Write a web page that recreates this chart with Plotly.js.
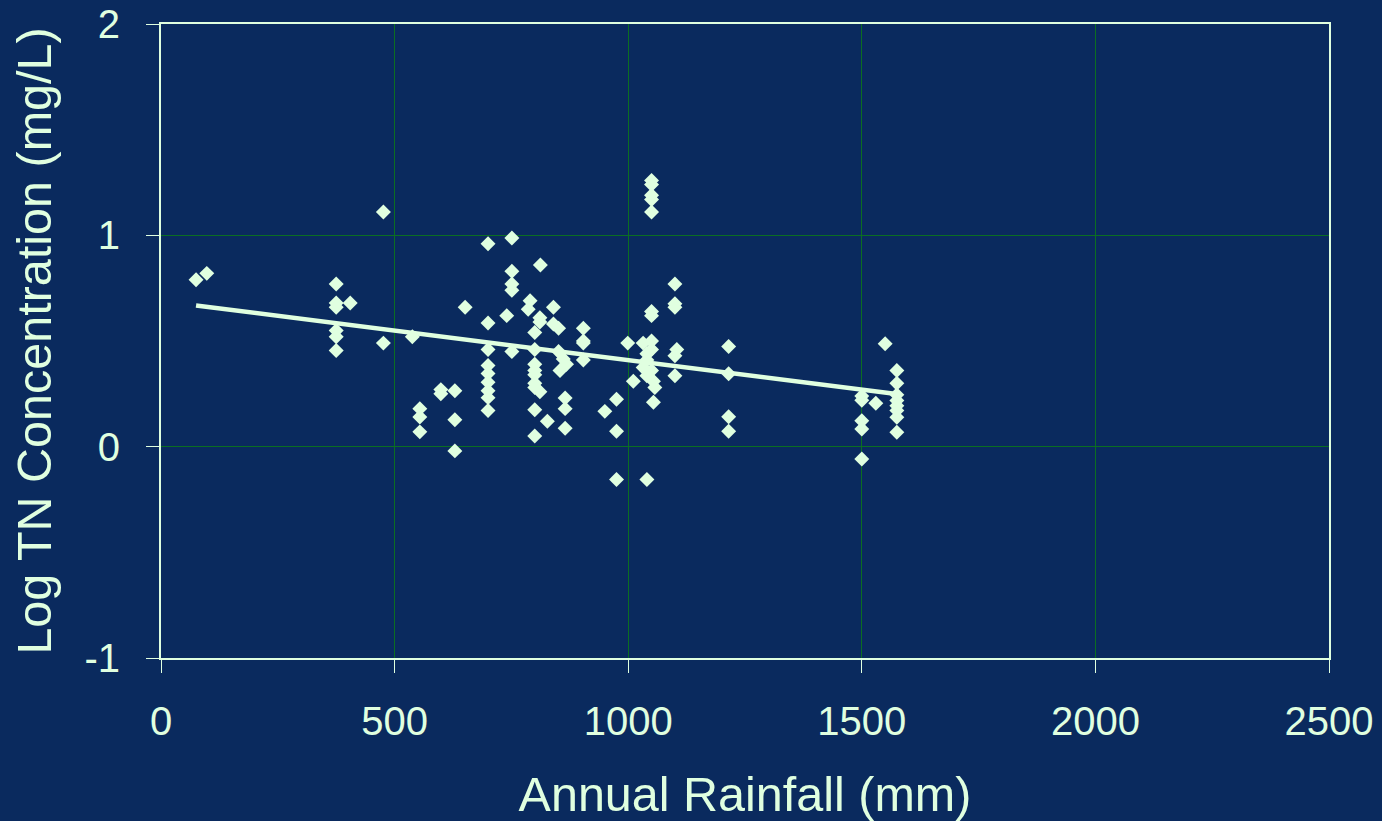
<!DOCTYPE html>
<html>
<head>
<meta charset="utf-8">
<script src="https://cdn.plot.ly/plotly-3.0.1.min.js"></script>
<style>
html,body{margin:0;padding:0;background:#0a2a5e;}
#chart{width:1382px;height:821px;}
</style>
</head>
<body>
<div id="chart"></div>
<script>
const rainfall = [
  75, 98,
  375, 375, 375, 375, 375, 375,
  405,
  476, 476,
  538,
  554, 554, 554,
  599, 599,
  629, 629, 629,
  651,
  700, 700, 700, 700, 700, 700, 700, 700, 700,
  740,
  751, 751, 751, 751, 751,
  786, 790,
  800, 800, 800, 800, 800, 800, 800, 800, 800,
  811, 811, 811,
  812, 827,
  840, 840,
  851, 851, 854, 861,
  865, 865, 865, 868,
  904, 904, 904, 904,
  950,
  975, 975, 975,
  999, 1011,
  1032, 1032,
  1040, 1040, 1040, 1040,
  1050, 1050, 1050, 1050, 1050, 1050, 1050, 1050, 1050, 1050,
  1054, 1054, 1057,
  1100, 1100, 1100, 1100, 1100,
  1104,
  1215, 1215, 1215, 1215,
  1500, 1500, 1500, 1500, 1500,
  1530, 1550,
  1575, 1575, 1575, 1575, 1575, 1575, 1575, 1575
];
const logTN = [
  0.79, 0.82,
  0.77, 0.68, 0.66, 0.55, 0.52, 0.455,
  0.68,
  1.11, 0.49,
  0.52,
  0.18, 0.14, 0.07,
  0.27, 0.25,
  0.265, 0.127, -0.02,
  0.66,
  0.96, 0.585, 0.46, 0.384, 0.346, 0.305, 0.265, 0.232, 0.171,
  0.62,
  0.987, 0.83, 0.77, 0.74, 0.45,
  0.65, 0.69,
  0.54, 0.46, 0.39, 0.36, 0.34, 0.30, 0.28, 0.175, 0.05,
  0.61, 0.59, 0.26,
  0.86, 0.12,
  0.66, 0.58,
  0.56, 0.45, 0.36, 0.415,
  0.23, 0.18, 0.087, 0.39,
  0.56, 0.50, 0.49, 0.41,
  0.167,
  0.224, 0.073, -0.155,
  0.49, 0.31,
  0.49, 0.375,
  0.44, 0.41, 0.336, -0.155,
  1.26, 1.24, 1.19, 1.17, 1.11, 0.64, 0.62, 0.50, 0.46, 0.36,
  0.31, 0.21, 0.28,
  0.77, 0.676, 0.66, 0.43, 0.336,
  0.46,
  0.474, 0.345, 0.142, 0.073,
  0.24, 0.22, 0.123, 0.084, -0.058,
  0.205, 0.487,
  0.36, 0.30, 0.246, 0.218, 0.194, 0.171, 0.139, 0.068
];
const trendX = [75, 1570];
const trendY = [0.668, 0.25];

const xTicks = [0, 500, 1000, 1500, 2000, 2500];
const yTicks = [-1, 0, 1, 2];

const fg = '#e0ffe0';
const bg = '#0a2a5e';
const grid = '#0b6e22';
const font = 'Liberation Sans, Arial, sans-serif';

const data = [
  {
    x: rainfall, y: logTN, type: 'scatter', mode: 'markers',
    marker: {symbol: 'diamond', size: 11.5, color: fg, line: {width: 0}},
    showlegend: false, hoverinfo: 'x+y'
  },
  {
    x: trendX, y: trendY, type: 'scatter', mode: 'lines',
    line: {color: fg, width: 4.5},
    showlegend: false, hoverinfo: 'skip'
  }
];

const layout = {
  width: 1382, height: 821,
  paper_bgcolor: bg, plot_bgcolor: bg,
  margin: {l: 161, r: 53, t: 24, b: 163},
  font: {family: font, color: fg, size: 41},
  xaxis: {
    range: [0, 2500], tickvals: xTicks, ticktext: xTicks.map(String),
    showgrid: true, gridcolor: grid, gridwidth: 1,
    zeroline: false,
    showline: true, linecolor: fg, linewidth: 2, mirror: true,
    ticks: 'outside', ticklen: 13, tickcolor: fg, tickwidth: 1,
    tickfont: {family: font, size: 40, color: fg},
    ticklabelstandoff: 14,
    title: {text: 'Annual Rainfall (mm)', font: {family: font, size: 48.5, color: fg}, standoff: 36},
    automargin: false
  },
  yaxis: {
    range: [-1, 2], tickvals: yTicks, ticktext: yTicks.map(String),
    showgrid: true, gridcolor: grid, gridwidth: 1,
    zeroline: false,
    showline: true, linecolor: fg, linewidth: 2, mirror: true,
    ticks: 'outside', ticklen: 13, tickcolor: fg, tickwidth: 1,
    tickfont: {family: font, size: 40, color: fg},
    ticklabelstandoff: 18,
    title: {text: 'Log TN Concentration (mg/L)', font: {family: font, size: 48.5, color: fg}, standoff: 17},
    automargin: false
  }
};

Plotly.newPlot('chart', data, layout, {displayModeBar: false, staticPlot: true});
</script>
</body>
</html>
